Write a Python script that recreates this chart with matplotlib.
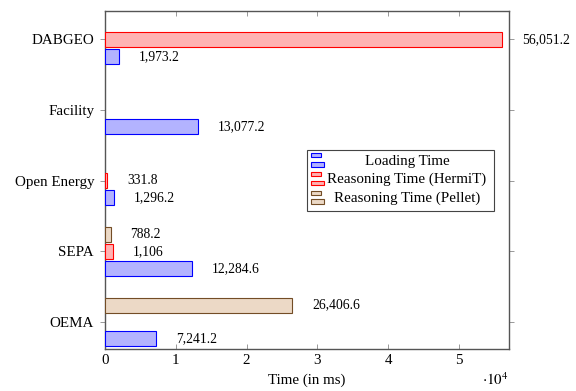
import matplotlib
matplotlib.use("Agg")
import matplotlib.pyplot as plt
from matplotlib.patches import Rectangle

# Ontology datasets (bottom to top) and measured times in ms
datasets = ["OEMA", "SEPA", "Open Energy", "Facility", "DABGEO"]
loading_time = [7241.2, 12284.6, 1296.2, 13077.2, 1973.2]
hermit_time = [None, 1106, 331.8, None, 56051.2]
pellet_time = [26406.6, 788.2, None, None, None]
series_names = ["Loading Time", "Reasoning Time (HermiT)", "Reasoning Time (Pellet)"]
x_ticks = [0, 1, 2, 3, 4, 5]  # in units of 10^4 ms

plt.rcParams["font.family"] = ["Liberation Serif", "DejaVu Serif"]
plt.rcParams["mathtext.fontset"] = "stix"

W, H = 576, 391
fig = plt.figure(figsize=(W / 100, H / 100), dpi=100)
ax = fig.add_axes([105 / W, 1 - 349 / H, 404 / W, 338 / H])

styles = [
    (loading_time, -0.24, "#b3b3ff", "#0000ff"),
    (hermit_time, 0.0, "#ffb3b3", "#ff0000"),
    (pellet_time, 0.24, "#ecd9c6", "#734d26"),
]


def fmt(v):
    return f"{v:,.0f}" if float(v).is_integer() else f"{v:,.1f}"


for values, offset, fc, ec in styles:
    ys = [i + offset for i, v in enumerate(values) if v is not None]
    xs = [v for v in values if v is not None]
    ax.barh(ys, xs, height=0.212, color=fc, edgecolor=ec, linewidth=0.8, zorder=3)
    for y, x in zip(ys, xs):
        ax.annotate(fmt(x), xy=(x, y), xytext=(14.4, 0), textcoords="offset points",
                    ha="left", va="center", fontsize=9.8)

ax.set_xlim(0, 57060)
ax.set_ylim(-0.382, 4.40)
ax.set_xticks([t * 1e4 for t in x_ticks])
ax.set_xticklabels([str(t) for t in x_ticks])
ax.set_yticks(range(len(datasets)))
ax.set_yticklabels(datasets)

ax.tick_params(axis="x", direction="in", top=True, length=3.6, width=0.6,
               color="#888888", labelsize=10.8, pad=3.6)
ax.tick_params(axis="y", direction="out", left=True, right=True, length=3.6,
               width=0.6, color="#888888", labelsize=10.8, pad=4.3)
for s in ax.spines.values():
    s.set_color("#555555")
    s.set_linewidth(1.0)

ax.set_xlabel("Time (in ms)", fontsize=10.8)
ax.xaxis.set_label_coords(0.5, -(380 - 349) / 338)
ax.xaxis.label.set_va("center")
ax.text(1.0, -(380 - 349) / 338, r"$\cdot10^4$", transform=ax.transAxes,
        ha="right", va="center", fontsize=10.8)


# Legend box with small bar icons, centred labels
def fx(px):
    return px / W


def fy(py):
    return 1 - py / H


fig.add_artist(Rectangle((fx(307), fy(211)), fx(494) - fx(307), fy(150) - fy(211),
                         transform=fig.transFigure, fc="white", ec="#444444",
                         lw=0.8, zorder=5))
for i, (name, (_, _, fc, ec)) in enumerate(zip(series_names, styles)):
    dy = 18.7 * i
    for x0, x1, y0, y1 in [(311, 321, 153.3, 157.3), (311, 324, 162.0, 166.7)]:
        fig.add_artist(Rectangle((fx(x0), fy(y1 + dy)), fx(x1) - fx(x0), fy(y0) - fy(y1),
                                 transform=fig.transFigure, fc=fc, ec=ec, lw=0.8,
                                 zorder=6))
    fig.text(fx(407), fy(161.0 + dy), name, ha="center", va="center",
             fontsize=10.8, zorder=6)

fig.savefig("out.png", dpi=100)
